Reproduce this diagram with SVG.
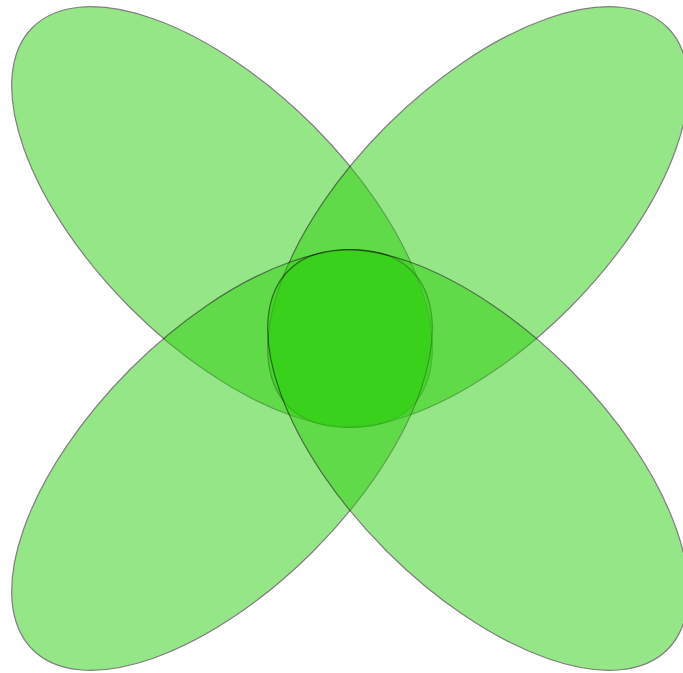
<svg xmlns="http://www.w3.org/2000/svg" width="683" height="673" viewBox="0 0 683 673">
<style>
.petal{fill:#2ecf10;stroke:#000;stroke-width:1.2;opacity:0.5}
</style>
<rect width="683" height="673" fill="#fff"/>
<g id="set-a"><ellipse class="petal" cx="0" cy="0" rx="268" ry="129" transform="translate(222,217) rotate(45)"/></g>
<g id="set-b"><ellipse class="petal" cx="0" cy="0" rx="268" ry="129" transform="translate(478,217) rotate(-45)"/></g>
<g id="set-c"><ellipse class="petal" cx="0" cy="0" rx="268" ry="129" transform="translate(222,460) rotate(-45)"/></g>
<g id="set-d"><ellipse class="petal" cx="0" cy="0" rx="268" ry="129" transform="translate(478,460) rotate(45)"/></g>
</svg>
